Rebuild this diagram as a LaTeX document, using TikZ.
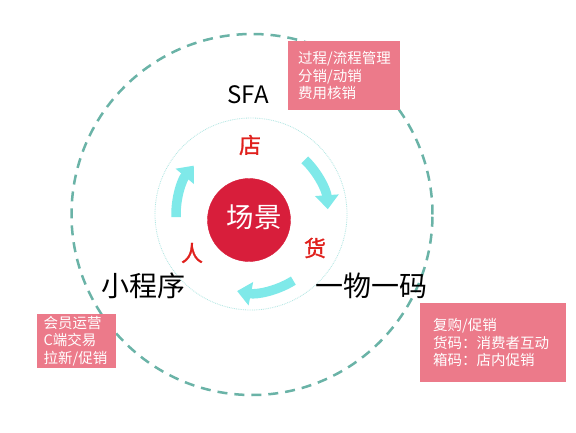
\documentclass[tikz,border=0pt]{standalone}
\usepackage{fontspec}
\usepackage{tikz}
\usetikzlibrary{calc,arrows.meta}
\newfontfamily\cjk{Noto Sans CJK SC}
\newfontfamily\cjkheavy{Noto Sans CJK SC}[FakeBold=1.2]

\definecolor{ringteal}{HTML}{6AB3A7}
\definecolor{dotcyan}{HTML}{AEE6E2}
\definecolor{flowcyan}{HTML}{7FE9E9}
\definecolor{scenered}{HTML}{D81E3B}
\definecolor{labelred}{HTML}{E0201C}
\definecolor{boxpink}{HTML}{EC7A8A}

\begin{document}
\begin{tikzpicture}[x=1pt,y=1pt,
  redlabel/.style={text=labelred,font=\cjkheavy\fontsize{22}{22}\selectfont},
  biglabel/.style={text=black,font=\cjk\fontsize{28}{28}\selectfont},
  pinkbox/.style={fill=boxpink,text=white,anchor=north west,align=left,
    font=\cjk\fontsize{14.5}{17.5}\selectfont,inner ysep=0pt},
  flow/.style={flowcyan,line width=9.5pt,-{Triangle[width=23pt,length=14pt]}}]
\useasboundingbox[fill=white](0,0) rectangle (576,432);
\coordinate (c) at (252,217.5);

% rings
\draw[ringteal,line width=2.5pt,dash pattern=on 10pt off 7pt](c) circle[radius=180.5pt];
\draw[dotcyan,line width=0.8pt,densely dotted](251,218) circle[radius=96pt];

% centre
\filldraw[scenered](249,212) circle[radius=41.5pt];
\node[text=white,font=\cjk\fontsize{27.5}{27.5}\selectfont](scene) at (254,215){场景};

% store / goods / people
\node[redlabel](store) at (250,287){店};
\node[redlabel](goods) at (315,184){货};
\node[redlabel](people) at (192,179){人};

% cycle arrows
\coordinate (pstart) at ($(c)+(182:76pt)$);
\coordinate (sstart) at ($(c)+(46:76pt)$);
\coordinate (gstart) at ($(c)+(-58:78pt)$);
\draw[flow](pstart) arc[start angle=182,end angle=140,radius=76pt];
\draw[flow](sstart) arc[start angle=46,end angle=4,radius=76pt];
\draw[flow](gstart) arc[start angle=-58,end angle=-101,radius=78pt];

% tools
\node[text=black,font=\cjk\fontsize{24}{24}\selectfont](sfa) at (248,337){SFA};
\node[biglabel](mini) at (143,146){小程序};
\node[biglabel](code) at (371,146){一物一码};

% notes
\node[pinkbox,inner xsep=10pt,text width=92pt,minimum height=69pt](boxsfa) at (288,391)
  {过程/流程管理\\分销/动销\\费用核销};
\node[pinkbox,inner xsep=6.5pt,text width=66pt,minimum height=54pt](boxmini) at (37,118)
  {会员运营\\C端交易\\拉新/促销};
\node[pinkbox,inner xsep=13pt,text width=120pt,minimum height=79pt](boxcode) at (420,129)
  {复购/促销\\货码：消费者互动\\箱码：店内促销};
\end{tikzpicture}
\end{document}
